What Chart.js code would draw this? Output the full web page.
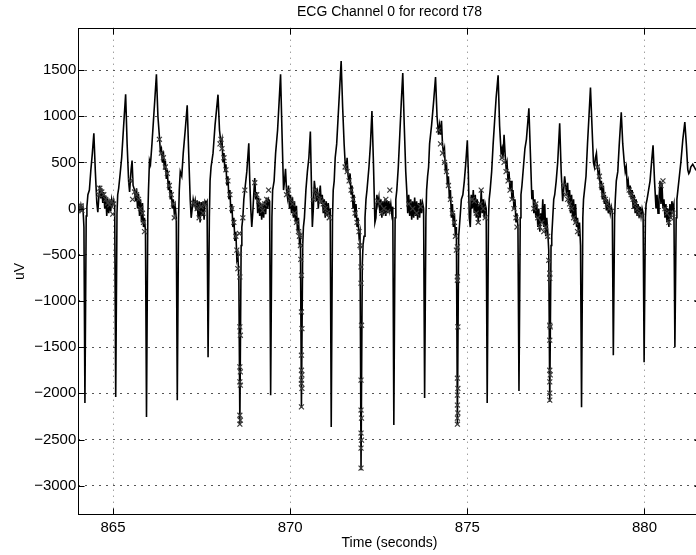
<!DOCTYPE html>
<html>
<head>
<meta charset="utf-8">
<title>ECG Channel 0 for record t78</title>
<script src="https://cdn.jsdelivr.net/npm/chart.js@4.4.1/dist/chart.umd.min.js"></script>
<style>
  html, body { margin: 0; padding: 0; overflow: hidden; background: #fff; }
  canvas { display: block; }
</style>
</head>
<body>
<canvas id="ecgChart" width="706" height="555"></canvas>
<script>
// time (s) and amplitude (uV) of the trace, one beat per line
let ecgTime = [
  864.038, 864.066, 864.094, 864.122, 864.150, 864.179,
  864.207, 864.243, 864.263, 864.291, 864.333, 864.375, 864.417, 864.459, 864.501, 864.543, 864.571, 864.599, 864.627, 864.655, 864.683, 864.711, 864.739, 864.767, 864.795, 864.823, 864.851, 864.879, 864.907, 864.935, 864.963, 864.991, 865.019, 865.047,
  865.076, 865.112, 865.132, 865.160, 865.202, 865.244, 865.300, 865.356, 865.398, 865.440, 865.468, 865.510, 865.538, 865.566, 865.608, 865.636, 865.664, 865.692, 865.720, 865.748, 865.776, 865.804, 865.832, 865.860, 865.888, 865.916,
  865.945, 865.981, 866.001, 866.029, 866.057, 866.099, 866.141, 866.183, 866.225, 866.267, 866.309, 866.337, 866.365, 866.393, 866.421, 866.449, 866.477, 866.505, 866.533, 866.561, 866.589, 866.617, 866.645, 866.673, 866.701, 866.729, 866.757, 866.785,
  866.814, 866.850, 866.870, 866.898, 866.940, 866.982, 867.038, 867.094, 867.136, 867.178, 867.206, 867.234, 867.262, 867.290, 867.318, 867.346, 867.374, 867.402, 867.430, 867.458, 867.486, 867.514, 867.542, 867.570, 867.598, 867.626, 867.654,
  867.683, 867.719, 867.739, 867.767, 867.823, 867.879, 867.963, 868.005, 868.047, 868.075, 868.103, 868.131, 868.159, 868.187, 868.215, 868.243, 868.271, 868.299, 868.327, 868.355, 868.383, 868.411, 868.439, 868.467, 868.495, 868.523, 868.551,
  868.580, 868.616, 868.636, 868.664, 868.692, 868.734, 868.776, 868.832, 868.860, 868.888, 868.916, 868.944, 868.972, 869.000, 869.028, 869.056, 869.084, 869.112, 869.140, 869.168, 869.196, 869.224, 869.252, 869.280, 869.308, 869.336, 869.364, 869.392, 869.420,
  869.449, 869.485, 869.505, 869.547, 869.589, 869.645, 869.687, 869.729, 869.771, 869.813, 869.841, 869.869, 869.897, 869.925, 869.953, 869.981, 870.009, 870.037, 870.065, 870.093, 870.121, 870.149, 870.177, 870.205, 870.233, 870.261, 870.289,
  870.318, 870.354, 870.374, 870.402, 870.444, 870.486, 870.528, 870.570, 870.598, 870.626, 870.654, 870.682, 870.710, 870.738, 870.766, 870.794, 870.822, 870.850, 870.878, 870.906, 870.934, 870.962, 870.990, 871.018, 871.046, 871.074, 871.102, 871.130,
  871.159, 871.195, 871.215, 871.243, 871.271, 871.313, 871.355, 871.397, 871.439, 871.481, 871.523, 871.551, 871.579, 871.607, 871.635, 871.663, 871.691, 871.719, 871.747, 871.775, 871.803, 871.831, 871.859, 871.887, 871.915, 871.943, 871.971,
  872.000, 872.036, 872.056, 872.084, 872.112, 872.140, 872.168, 872.224, 872.266, 872.308, 872.350, 872.392, 872.420, 872.448, 872.476, 872.504, 872.532, 872.560, 872.588, 872.616, 872.644, 872.672, 872.700, 872.728, 872.756, 872.784, 872.812, 872.840, 872.868, 872.896,
  872.926, 872.962, 872.982, 873.010, 873.052, 873.094, 873.136, 873.178, 873.220, 873.262, 873.290, 873.318, 873.346, 873.374, 873.402, 873.430, 873.458, 873.486, 873.514, 873.542, 873.570, 873.598, 873.626, 873.654, 873.682, 873.710, 873.738, 873.766,
  873.795, 873.831, 873.851, 873.879, 873.907, 873.935, 873.991, 874.047, 874.103, 874.145, 874.187, 874.215, 874.243, 874.271, 874.299, 874.327, 874.355, 874.383, 874.411, 874.439, 874.467, 874.495, 874.523, 874.551, 874.579, 874.607, 874.635, 874.663, 874.691,
  874.720, 874.756, 874.776, 874.804, 874.832, 874.874, 874.916, 874.958, 875.000, 875.028, 875.056, 875.084, 875.112, 875.140, 875.168, 875.196, 875.224, 875.252, 875.280, 875.308, 875.336, 875.364, 875.392, 875.420, 875.448, 875.476, 875.504, 875.532,
  875.561, 875.597, 875.617, 875.645, 875.687, 875.729, 875.771, 875.813, 875.869, 875.911, 875.953, 875.981, 876.009, 876.037, 876.065, 876.093, 876.121, 876.149, 876.177, 876.205, 876.233, 876.261, 876.289, 876.317, 876.345, 876.373, 876.401, 876.429,
  876.458, 876.494, 876.514, 876.542, 876.584, 876.626, 876.668, 876.710, 876.738, 876.780, 876.822, 876.850, 876.878, 876.906, 876.934, 876.962, 876.990, 877.018, 877.046, 877.074, 877.102, 877.130, 877.158, 877.186, 877.214, 877.242, 877.270, 877.298,
  877.327, 877.363, 877.383, 877.411, 877.439, 877.467, 877.509, 877.551, 877.607, 877.649, 877.691, 877.719, 877.747, 877.775, 877.803, 877.831, 877.859, 877.887, 877.915, 877.943, 877.971, 877.999, 878.027, 878.055, 878.083, 878.111, 878.139, 878.167, 878.195,
  878.224, 878.260, 878.280, 878.308, 878.350, 878.392, 878.434, 878.476, 878.518, 878.560, 878.588, 878.616, 878.644, 878.672, 878.700, 878.728, 878.756, 878.784, 878.812, 878.840, 878.868, 878.896, 878.924, 878.952, 878.980, 879.008, 879.036, 879.064, 879.092,
  879.121, 879.157, 879.177, 879.205, 879.247, 879.289, 879.345, 879.387, 879.429, 879.457, 879.485, 879.513, 879.541, 879.569, 879.597, 879.625, 879.653, 879.681, 879.709, 879.737, 879.765, 879.793, 879.821, 879.849, 879.877, 879.905, 879.933, 879.961,
  879.990, 880.026, 880.046, 880.074, 880.116, 880.158, 880.200, 880.242, 880.284, 880.326, 880.354, 880.382, 880.410, 880.438, 880.466, 880.494, 880.522, 880.550, 880.578, 880.606, 880.634, 880.662, 880.690, 880.718, 880.746, 880.774, 880.802, 880.830,
  880.859, 880.895, 880.915, 880.943, 880.985, 881.027, 881.083, 881.139, 881.181, 881.223, 881.251, 881.279, 881.307, 881.363, 881.447, 881.587
];
let ecgUV = [
  30, -20, 40, -10, 20, -200,
  -2105, -80, 20, 150, 200, 420, 600, 815, 400, 60, -40, 120, 250, 110, 220, 60, 180, 0, 140, -80, 110, -50, 90, -30, 100, 40, 90, 30,
  -2040, -50, 150, 220, 380, 550, 900, 1236, 700, 300, 180, 420, 520, 250, 200, 80, 220, 0, 160, -80, 100, -150, 60, -200, -100, -250,
  -2257, -100, 200, 520, 480, 700, 950, 1200, 1453, 1000, 780, 620, 650, 500, 620, 420, 520, 320, 420, 200, 300, 100, 200, 0, 100, -50, 20, -100,
  -2074, -100, 200, 400, 350, 600, 850, 1118, 600, 100, -100, 0, 100, 40, 90, -20, 90, -100, 80, -150, 70, -80, 80, -120, 80, 60, 80,
  -1610, -100, 300, 450, 600, 900, 1233, 850, 700, 750, 500, 600, 400, 480, 250, 350, 100, 200, -50, 50, -200, -100, -350, -250, -550, -500, -750,
  -2343, -400, -200, -100, 100, 250, 400, 706, 300, 0, -200, -50, 150, 330, 100, 180, -50, 120, -80, 60, -120, 50, -100, 80, -60, 120, 0, 100, 80,
  -2020, -100, 200, 300, 600, 850, 1150, 1453, 800, 200, 300, 430, 200, 120, 250, 0, 150, -50, 120, -100, 80, -150, 30, -250, -100, -350, -300,
  -2160, -400, -200, -100, 200, 400, 550, 835, 300, -200, 0, 300, 200, 80, 220, 0, 150, 250, 50, 150, -50, 100, -100, 80, -80, 60, -60, 0,
  -2365, -100, 200, 300, 550, 700, 1000, 1300, 1597, 1100, 700, 500, 400, 550, 350, 300, 380, 150, 250, 0, 150, -100, 50, -200, -100, -300, -250,
  -2832, -600, -400, -300, -100, 100, 200, 450, 700, 1056, 500, -150, -100, 150, 50, 120, -50, 100, -100, 80, -60, 100, -80, 90, -50, 80, -20, 50, -60, 20,
  -2343, -100, 100, 200, 450, 800, 1150, 1468, 900, 400, 200, -50, 150, -80, 100, -120, 80, -100, 120, -80, 80, -120, 60, -100, 100, -50, 60, 0,
  -2050, -100, 200, 350, 450, 700, 900, 1150, 1424, 1000, 800, 900, 800, 950, 700, 600, 650, 400, 500, 250, 350, 100, 200, -100, 50, -200, -50, -300, -200,
  -2343, -300, -200, -50, 100, 150, 300, 500, 739, 400, -100, -200, 150, 0, 200, -50, 150, -100, 100, -150, 50, -100, 200, -50, 100, -100, 50, 0,
  -2105, -100, 100, 200, 400, 700, 950, 1200, 1442, 900, 600, 650, 550, 800, 600, 450, 500, 300, 400, 200, 300, 100, 200, 0, 100, -150, -50, -200,
  -1975, -100, 150, 250, 450, 650, 750, 950, 1085, 600, 100, 200, -50, 100, -100, 50, -200, 0, -250, -50, -150, 100, -200, 50, -300, -100, -250, -450,
  -2090, -400, -300, -100, 100, 150, 300, 500, 923, 400, 80, 200, 350, 250, 150, 280, 50, 200, -50, 150, -100, 100, -150, 50, -200, -100, -300, -150, -400,
  -2150, -100, 100, 200, 350, 700, 1000, 1309, 900, 500, 450, 550, 600, 450, 350, 400, 200, 300, 100, 250, 50, 150, -20, 100, -50, 50, -50, 20, -30,
  -1587, -100, 100, 300, 400, 700, 1042, 700, 500, 400, 450, 250, 300, 150, 250, 100, 200, 0, 150, -50, 100, -80, 50, -100, 20, -80, 0, -50,
  -1663, -100, 50, 100, 200, 300, 500, 685, 300, 0, 150, -50, 100, 300, 50, 280, 0, 100, -100, 50, -150, 0, -200, 50, -100, 80, 0, 50,
  -1500, -100, 100, 200, 350, 500, 750, 937, 700, 420, 380, 400, 450, 480, 420, 380
];

// the "x" marks laid over the trace
let markTime = [
  864.038, 864.066, 864.094, 864.122,
  864.599, 864.627, 864.683, 864.739, 864.795, 864.851, 864.907, 864.963, 864.991, 865.019,
  865.496, 865.552, 865.608, 865.664, 865.720, 865.776, 865.832, 865.860, 865.888,
  866.309, 866.365, 866.421, 866.477, 866.533, 866.589, 866.645, 866.701, 866.729,
  867.262, 867.318, 867.374, 867.430, 867.486, 867.542, 867.598,
  868.019, 868.047, 868.075, 868.131, 868.187, 868.243, 868.299, 868.355, 868.411, 868.467, 868.495, 868.523,
  868.566, 868.570, 868.580, 868.580, 868.594, 868.580, 868.594, 868.580, 868.594, 868.580, 868.594, 868.580,
  868.664, 868.720, 869.000, 869.056, 869.112, 869.168, 869.224, 869.280, 869.336, 869.392,
  869.897, 869.953, 870.009, 870.065, 870.121, 870.177, 870.233, 870.261, 870.289,
  870.290, 870.300, 870.318, 870.318, 870.332, 870.318, 870.318, 870.332, 870.318, 870.318, 870.332, 870.318,
  870.654, 870.710, 870.766, 870.822, 870.878, 870.934, 870.990, 871.046, 871.102,
  871.551, 871.607, 871.663, 871.719, 871.775, 871.831, 871.887, 871.943, 871.971,
  872.000, 872.000, 872.000, 872.014, 872.000, 872.000, 872.014, 872.000, 872.014, 872.000, 872.000,
  872.476, 872.532, 872.588, 872.644, 872.700, 872.756, 872.812,
  873.346, 873.458, 873.570, 873.682,
  874.187, 874.243, 874.299, 874.355, 874.411, 874.467, 874.523, 874.579, 874.635, 874.663, 874.691,
  874.720, 874.720, 874.720, 874.734, 874.720, 874.734, 874.720, 874.720, 874.734, 874.720, 874.720,
  875.140, 875.196, 875.252, 875.308, 875.364, 875.392, 875.448, 875.504,
  875.981, 876.037, 876.093, 876.149, 876.205, 876.261, 876.317, 876.373, 876.401,
  876.878, 876.934, 876.990, 877.046, 877.102, 877.158, 877.214, 877.270, 877.298,
  877.327, 877.327, 877.327, 877.341, 877.327, 877.327, 877.341, 877.327, 877.327, 877.327,
  877.719, 877.775, 877.831, 877.887, 877.943, 877.999, 878.055, 878.111,
  878.672, 878.728, 878.784, 878.840, 878.896, 878.952, 879.008, 879.064,
  879.569, 879.625, 879.681, 879.737, 879.793, 879.849, 879.905,
  880.466, 880.522, 880.578, 880.634, 880.690, 880.746, 880.802
];
let markUV = [
  20, 0, 30, -20,
  150, 220, 180, 150, 100, 60, 40, 80, -60, 50,
  300, 100, 180, 150, 100, 0, -50, -150, -250,
  750, 600, 550, 450, 380, 250, 150, 50, -100,
  60, 50, 0, -100, 20, -50, 40,
  700, 750, 650, 550, 420, 300, 150, 0, -150, -300, -450, -650,
  -270, -500, -740, -1281, -1371, -1714, -1768, -1876, -1912, -2237, -2291, -2334,
  -100, 200, 280, 150, 80, 30, -20, 50, 100, 200,
  150, 200, 100, 50, -50, -150, -250, -300, -400,
  -290, -550, -722, -1119, -1299, -1587, -1750, -1800, -1857, -1893, -1947, -2147,
  100, 200, 150, 100, 80, 50, 0, -50, -100,
  450, 400, 300, 200, 100, -50, -150, -250, -400,
  -415, -632, -808, -1263, -1857, -2181, -2268, -2430, -2506, -2593, -2810,
  80, 50, -50, 0, 100, -30, 200,
  50, 0, -50, 20,
  850, 700, 600, 500, 400, 250, 100, -50, -150, -300, -450,
  -415, -740, -776, -1281, -1836, -1947, -2019, -2127, -2213, -2268, -2334,
  100, 80, -50, -150, 50, 200, 0, -100,
  550, 500, 400, 300, 200, 100, 0, -100, -200,
  0, 50, -100, -200, -150, -250, -200, -300, -560,
  -700, -756, -1263, -1281, -1425, -1750, -1800, -1876, -1998, -2074,
  250, 150, 100, 50, 0, -100, -150, -250,
  450, 350, 250, 150, 100, 50, 0, -30,
  200, 150, 100, 50, 0, -50, -80,
  250, 300, 0, -50, -150, -100, -50
];

let xTicks = [865, 870, 875, 880];
let yTicks = [-3000, -2500, -2000, -1500, -1000, -500, 0, 500, 1000, 1500];

const fontFamily = "'Liberation Sans', Arial, Helvetica, sans-serif";

// MATLAB style box with ticks pointing inwards
const boxTicks = {
  id: 'boxTicks',
  afterDraw(chart) {
    const {ctx, chartArea: a, scales: {x, y}} = chart;
    const L = Math.round(a.left) + 0.5, R = Math.round(a.right) - 0.5;
    const T = Math.round(a.top) + 0.5, B = Math.round(a.bottom) - 0.5;
    ctx.save();
    ctx.strokeStyle = '#000';
    ctx.lineWidth = 1;
    ctx.beginPath();
    xTicks.forEach(v => {
      const px = Math.round(x.getPixelForValue(v)) + 0.5;
      ctx.moveTo(px, B); ctx.lineTo(px, B - 6);
      ctx.moveTo(px, T); ctx.lineTo(px, T + 6);
    });
    yTicks.forEach(v => {
      const py = Math.round(y.getPixelForValue(v)) + 0.5;
      ctx.moveTo(L, py); ctx.lineTo(L + 6, py);
      ctx.moveTo(R, py); ctx.lineTo(R - 6, py);
    });
    ctx.stroke();
    ctx.strokeRect(L, T, R - L, B - T);
    ctx.restore();
  }
};

let ctx = document.getElementById('ecgChart').getContext('2d');
let ecgChart = new Chart(ctx, {
  type: 'line',
  data: {
    datasets: [{
      label: 'marks',
      data: markTime.map((t, i) => ({x: t, y: markUV[i]})),
      showLine: false,
      pointStyle: 'crossRot',
      pointRadius: 3.5,
      pointBorderColor: '#3a3a3a',
      pointBorderWidth: 1.2,
      pointBackgroundColor: '#3a3a3a',
      order: 0
    }, {
      label: 'ECG',
      data: ecgTime.map((t, i) => ({x: t, y: ecgUV[i]})),
      borderColor: '#000',
      borderWidth: 1.6,
      pointRadius: 0,
      tension: 0,
      fill: false,
      order: 1
    }]
  },
  options: {
    responsive: false,
    devicePixelRatio: 1,
    animation: false,
    layout: { padding: 0 },
    plugins: {
      legend: { display: false },
      tooltip: { enabled: false },
      title: {
        display: true,
        text: 'ECG Channel 0 for record t78',
        fullSize: false,
        color: '#000',
        font: { family: fontFamily, size: 14, weight: 'normal' },
        padding: { top: 3.6, bottom: 7.3 }
      }
    },
    scales: {
      x: {
        type: 'linear',
        min: 864.02,
        max: 881.59,
        afterBuildTicks: s => { s.ticks = xTicks.map(v => ({value: v})); },
        afterFit: s => { s.height = 40; },
        ticks: {
          color: '#000',
          padding: 4,
          font: { family: fontFamily, size: 15 },
          callback: v => String(v)
        },
        grid: { color: '#777', lineWidth: 1, drawTicks: false },
        border: { display: false, dash: [1, 5] },
        title: {
          display: true,
          text: 'Time (seconds)',
          color: '#000',
          font: { family: fontFamily, size: 14 },
          padding: { top: 0, bottom: 3.6 }
        }
      },
      y: {
        min: -3317,
        max: 1958,
        afterBuildTicks: s => { s.ticks = yTicks.map(v => ({value: v})); },
        afterFit: s => { s.width = 78.3; },
        ticks: {
          color: '#000',
          padding: 2,
          font: { family: fontFamily, size: 15 },
          callback: v => String(v).replace('-', '\u2212')
        },
        grid: { color: '#555', lineWidth: 1, drawTicks: false },
        border: { display: false, dash: [2, 5] },
        title: {
          display: true,
          text: 'uV',
          color: '#000',
          font: { family: fontFamily, size: 14 },
          padding: { top: 11.6, bottom: 0 }
        }
      }
    }
  },
  plugins: [boxTicks]
});
</script>
</body>
</html>
